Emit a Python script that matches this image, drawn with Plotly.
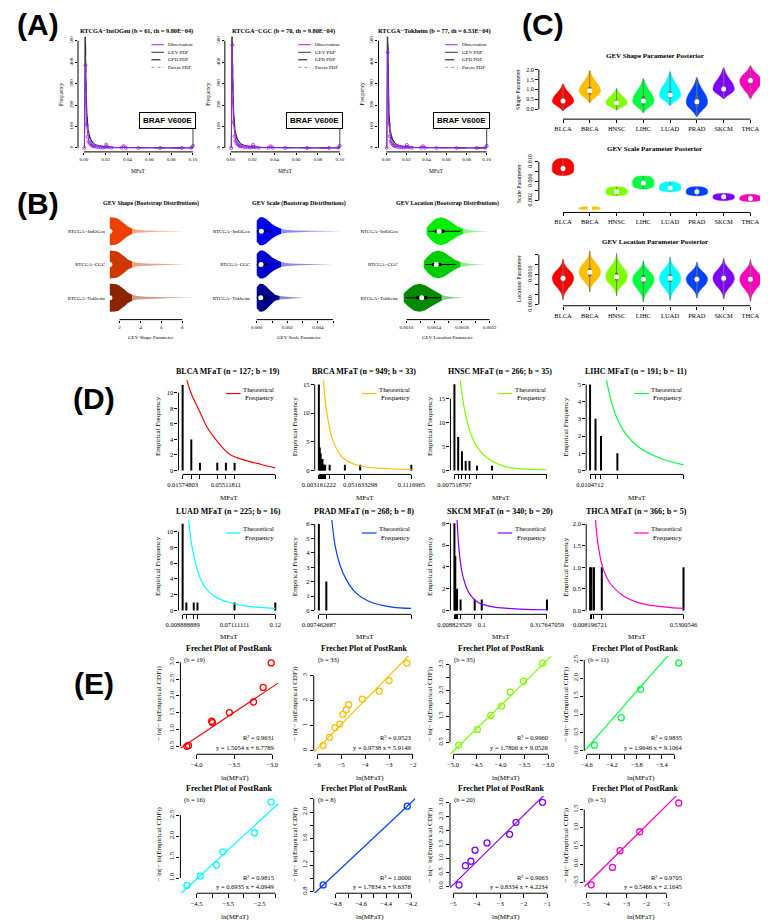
import plotly.graph_objects as go

W, H = 768, 920
SERIF = "Liberation Serif, Times New Roman, serif"
SANS = "Liberation Sans, Arial, Helvetica, sans-serif"
RAINBOW = ["#FF0000", "#FFBF00", "#80FF00", "#00FF40", "#00FFFF", "#0040FF", "#8000FF", "#FF00BF"]
CANCERS = ["BLCA", "BRCA", "HNSC", "LIHC", "LUAD", "PRAD", "SKCM", "THCA"]

# ================= Panel A data =================
A_titles = ["RTCGA−IntOGen (b = 61, th = 9.80E−04)",
            "RTCGA−CGC (b = 70, th = 9.80E−04)",
            "RTCGA−Tokheim (b = 77, th = 6.53E−04)"]
A_obs_x = [0.0005, 0.0015, 0.0025, 0.0035, 0.0045, 0.0055, 0.0065, 0.0075, 0.0085, 0.0095,
           0.0115, 0.0135, 0.0155, 0.0175, 0.0195, 0.0205, 0.0225, 0.0255, 0.0345, 0.0365,
           0.0385, 0.0500, 0.0700, 0.0900, 0.0985, 0.1000]
A_obs_y = [
    [0, 385, 110, 52, 30, 22, 16, 12, 9, 7, 5, 3, 2, 2, 3, 16, 3, 1, 1, 9, 1, 0, 0, 0, 1, 10],
    [0, 480, 120, 55, 32, 22, 16, 12, 9, 7, 5, 3, 2, 2, 3, 14, 3, 1, 1, 8, 1, 0, 0, 0, 1, 10],
    [0, 445, 115, 55, 32, 22, 16, 12, 9, 7, 5, 3, 2, 2, 3, 14, 3, 1, 1, 8, 1, 0, 0, 0, 1, 10]]
A_gev_x = [0.0006, 0.0008, 0.0010, 0.0012, 0.0015, 0.0020, 0.0025, 0.0030, 0.0040, 0.0050, 0.0060,
           0.0080, 0.0100, 0.0130, 0.0160, 0.0200, 0.0300, 0.0400, 0.0600, 0.0800, 0.1000]
A_gev_y = [0, 80, 450, 580, 480, 300, 200, 140, 85, 58, 44, 27, 18, 11, 7, 4.5, 2.2, 1.3, 0.6, 0.35, 0.2]
A_gpd_x = [0.00098, 0.0012, 0.0015, 0.0020, 0.0025, 0.0030, 0.0040, 0.0050, 0.0060, 0.0080,
           0.0100, 0.0130, 0.0160, 0.0200, 0.0300, 0.0400, 0.0600, 0.0800, 0.1000]
A_gpd_y = [900, 650, 440, 270, 180, 128, 78, 54, 40, 25, 17, 10.5, 7, 4.4, 2.1, 1.2, 0.55, 0.3, 0.18]
A_par_y = [1000, 720, 470, 285, 188, 132, 80, 55, 41, 25, 17, 10.5, 7, 4.4, 2.1, 1.2, 0.55, 0.3, 0.18]
A_mark_x = 0.10
A_mark_label = "BRAF V600E"
A_xticks = [0.00, 0.02, 0.04, 0.06, 0.08, 0.10]
A_yticks = [0, 100, 200, 300, 400, 500]
A_legend = ["Observation", "GEV PDF", "GPD PDF", "Pareto PDF"]

# ================= Panel B data =================
B_groups = ["RTCGA−IntOGen", "RTCGA−CGC", "RTCGA−Tokheim"]
B_titles = ["GEV Shape (Bootstrap Distributions)", "GEV Scale (Bootstrap Distributions)",
            "GEV Location (Bootstrap Distributions)"]
B_xtitles = ["GEV Shape Parameter", "GEV Scale Parameter", "GEV Location Parameter"]
B_colors = [["#EE4000", "#CD3700", "#8B2500"],
            ["#0000EE", "#0000CD", "#00008B"],
            ["#00EE00", "#00CD00", "#008B00"]]
B_shape_vals = [[1.07, 1.3, 1.6, 1.9, 2.2, 2.5, 2.8, 3.2, 3.7, 4.5, 5.5, 7.0, 8.3],
                [1.07, 1.3, 1.6, 1.9, 2.2, 2.5, 2.8, 3.2, 3.7, 4.5, 5.5, 7.0, 8.6],
                [1.07, 1.3, 1.6, 1.9, 2.2, 2.5, 2.8, 3.2, 3.7, 4.5, 5.5, 7.0, 9.2]]
B_shape_frac = [[1.0, 1.0, 0.97, 0.88, 0.72, 0.52, 0.34, 0.2, 0.11, 0.06, 0.04, 0.02, 0.0],
                [1.0, 1.0, 0.97, 0.9, 0.75, 0.55, 0.36, 0.22, 0.12, 0.07, 0.045, 0.02, 0.0],
                [1.0, 1.0, 0.98, 0.92, 0.78, 0.58, 0.38, 0.22, 0.12, 0.07, 0.045, 0.02, 0.0]]
B_shape_med = [1.08, 1.08, 1.08]
B_scale_vals = [[0.0, 0.0002, 0.0004, 0.0006, 0.0008, 0.0010, 0.0013, 0.0016, 0.0020, 0.0026, 0.0035, 0.0045, 0.0056],
                [0.0, 0.0002, 0.0004, 0.0006, 0.0008, 0.0010, 0.0013, 0.0016, 0.0020, 0.0026, 0.0033, 0.0041, 0.0050],
                [0.0, 0.0002, 0.0004, 0.0006, 0.0008, 0.0010, 0.0012, 0.0015, 0.0019, 0.0024, 0.0031]]
B_scale_frac = [[0.75, 1.0, 1.0, 0.9, 0.72, 0.52, 0.32, 0.18, 0.1, 0.06, 0.035, 0.02, 0.0],
                [0.75, 1.0, 1.0, 0.9, 0.72, 0.52, 0.32, 0.18, 0.1, 0.06, 0.035, 0.02, 0.0],
                [0.75, 1.0, 0.98, 0.85, 0.62, 0.4, 0.22, 0.12, 0.07, 0.03, 0.0]]
B_scale_med = [0.00030, 0.00028, 0.00026]
B_scale_whisk = [(0.0, 0.0009), (0.0, 0.0008), (0.0, 0.0007)]
B_scale_box = [(0.00012, 0.00052), (0.00011, 0.00050), (0.00010, 0.00045)]
B_loc_vals = [[0.00129, 0.00135, 0.00142, 0.00150, 0.00158, 0.00166, 0.00174, 0.00182, 0.00192, 0.00205, 0.00220],
              [0.00125, 0.00131, 0.00138, 0.00146, 0.00154, 0.00162, 0.00170, 0.00178, 0.00188, 0.00200, 0.00215],
              [0.00096, 0.00103, 0.00111, 0.00119, 0.00127, 0.00135, 0.00143, 0.00151, 0.00160, 0.00170, 0.00182]]
B_loc_frac = [[0.25, 0.6, 0.9, 1.0, 0.88, 0.6, 0.35, 0.18, 0.08, 0.03, 0.0],
              [0.25, 0.6, 0.9, 1.0, 0.88, 0.6, 0.35, 0.18, 0.08, 0.03, 0.0],
              [0.3, 0.65, 0.92, 1.0, 0.9, 0.65, 0.4, 0.2, 0.09, 0.03, 0.0]]
B_loc_med = [0.00147, 0.00143, 0.00122]
B_loc_whisk = [(0.00131, 0.00178), (0.00127, 0.00172), (0.00099, 0.00150)]
B_loc_box = [(0.00141, 0.00155), (0.00137, 0.00150), (0.00114, 0.00130)]

# ================= Panel C data =================
C_titles = ["GEV Shape Parameter Posterior", "GEV Scale Parameter Posterior", "GEV Location Parameter Posterior"]
C_ytitles = ["Shape Parameter", "Scale Parameter", "Location Parameter"]
C_rel = [0.0, 0.25, 0.5, 0.75, 1.0]
C_shape_lo = [-0.08, 0.32, -0.05, -0.18, 0.18, -0.38, 0.52, 0.52]
C_shape_med = [0.42, 0.93, 0.32, 0.42, 0.72, 0.38, 1.02, 1.45]
C_shape_hi = [1.28, 1.95, 1.05, 1.55, 1.90, 1.60, 2.10, 2.20]
C_shape_q1 = [0.27, 0.75, 0.18, 0.22, 0.55, 0.13, 0.87, 1.25]
C_shape_q3 = [0.58, 1.12, 0.47, 0.65, 0.90, 0.68, 1.18, 1.65]
C_shape_below = [0.0, 0.25, 0.6, 0.9, 1.0]
C_shape_above = [1.0, 0.85, 0.5, 0.2, 0.0]
C_scale_lo = [0.0072, 0.0001, 0.0030, 0.0044, 0.0038, 0.0030, 0.0020, 0.0018]
C_scale_med = [0.0086, 0.0004, 0.0038, 0.0056, 0.0046, 0.0038, 0.0028, 0.0024]
C_scale_hi = [0.0106, 0.0007, 0.0048, 0.0070, 0.0058, 0.0048, 0.0034, 0.0032]
C_scale_q1 = [0.0080, 0.0003, 0.0035, 0.0052, 0.0043, 0.0035, 0.0025, 0.0022]
C_scale_q3 = [0.0093, 0.0005, 0.0042, 0.0061, 0.0050, 0.0042, 0.0030, 0.0027]
C_scale_below = [0.3, 0.78, 0.96, 1.0, 1.0]
C_scale_above = [1.0, 1.0, 0.96, 0.82, 0.5]
C_loc_lo = [0.00110, 0.00125, 0.00117, 0.00105, 0.00108, 0.00113, 0.00111, 0.00106]
C_loc_med = [0.00153, 0.00165, 0.00156, 0.00151, 0.00153, 0.00151, 0.00153, 0.00151]
C_loc_hi = [0.00191, 0.00208, 0.00203, 0.00188, 0.00195, 0.00185, 0.00193, 0.00190]
C_loc_q1 = [0.00145, 0.00157, 0.00148, 0.00143, 0.00145, 0.00143, 0.00145, 0.00143]
C_loc_q3 = [0.00161, 0.00173, 0.00164, 0.00159, 0.00161, 0.00159, 0.00161, 0.00159]
C_loc_below = [0.0, 0.12, 0.45, 0.85, 1.0]
C_loc_above = [1.0, 0.85, 0.45, 0.12, 0.0]

# ================= Panel D data =================
D_n = [127, 949, 266, 191, 225, 268, 340, 366]
D_b = [19, 33, 35, 11, 16, 8, 20, 5]
D_k = [[2, 3, 4, 6, 7, 8],
       [3, 4, 5, 6, 7, 8, 9, 10, 15, 32, 49, 106],
       [2, 3, 4, 5, 6, 8, 12],
       [2, 3, 4, 7],
       [2, 3, 5, 6, 16, 27],
       [2, 4],
       [3, 4, 5, 6, 10, 26, 34, 108],
       [3, 6, 11, 27, 194]]
D_counts = [[11, 4, 1, 1, 1, 1],
            [15, 4, 3, 2, 2, 1, 1, 1, 1, 1, 1, 1],
            [18, 7, 4, 2, 2, 1, 1],
            [5, 3, 2, 1],
            [11, 1, 1, 1, 1, 1],
            [6, 2],
            [8, 5, 1, 2, 1, 1, 1, 1],
            [1, 1, 1, 1, 1]]
D_xlab = [{2: "0.01574803", 7: "0.05511811"},
          {3: "0.003161222", 49: "0.051633298", 106: "0.1116965"},
          {2: "0.007518797"},
          {2: "0.0104712"},
          {2: "0.008888889", 16: "0.07111111", 27: "0.12"},
          {2: "0.007462687"},
          {3: "0.008823529", 34: "0.1", 108: "0.317647059"},
          {3: "0.008196721", 194: "0.5300546"}]
D_yticks = [[0, 2, 4, 6, 8, 10], [0, 5, 10, 15], [0, 5, 10, 15], [0, 1, 2, 3, 4, 5],
            [0, 2, 4, 6, 8, 10], [0, 1, 2, 3, 4, 5, 6], [0, 2, 4, 6, 8], [0.0, 0.5, 1.0, 1.5, 2.0]]
D_curve_x = [[0.018, 0.0195, 0.0230, 0.0267, 0.0325, 0.0382, 0.0469, 0.0584, 0.0729, 0.0873, 0.1],
             [0.0075, 0.00866, 0.0110, 0.0141, 0.0197, 0.0307, 0.0491, 0.0864, 0.1117],
             [0.0125, 0.01346, 0.0150, 0.0172, 0.0219, 0.0282, 0.0392, 0.058, 0.0987, 0.1],
             [0.0255, 0.02644, 0.03, 0.036, 0.045, 0.0572, 0.0753, 0.098, 0.1],
             [0.0155, 0.0162, 0.0185, 0.02125, 0.0271, 0.0348, 0.0466, 0.0658, 0.0853, 0.12],
             [0.0195, 0.0204, 0.0236, 0.0285, 0.0349, 0.0445, 0.0573, 0.0806, 0.1],
             [0.0165, 0.01765, 0.021, 0.025, 0.0358, 0.0574, 0.0897, 0.1438, 0.23, 0.3176],
             [0.036, 0.0388, 0.045, 0.053, 0.080, 0.1254, 0.197, 0.305, 0.431, 0.53]]
D_curve_y = [[13.5, 11.7, 10.1, 8.9, 7.2, 5.5, 3.8, 2.1, 1.3, 0.77, 0.34],
             [19, 15.7, 11.6, 8.7, 5.2, 2.3, 0.87, 0.3, 0.2],
             [21, 18.75, 16.2, 13.2, 9.0, 5.6, 2.8, 0.8, 0.15, 0.13],
             [5.6, 5.2, 4.2, 3.08, 2.1, 1.35, 0.77, 0.35, 0.33],
             [12.5, 11.5, 9.2, 7.5, 4.96, 3.07, 1.8, 0.97, 0.55, 0.25],
             [7.0, 6.3, 4.55, 3.17, 2.14, 1.22, 0.64, 0.23, 0.14],
             [9.5, 8.3, 6.7, 5.4, 3.28, 1.61, 0.7, 0.3, 0.12, 0.06],
             [2.4, 2.09, 1.8, 1.52, 0.98, 0.6, 0.33, 0.15, 0.077, 0.046]]
D_legend = ["Theoretical", "Frequency"]

# ================= Panel E data =================
E_b = [19, 33, 35, 11, 16, 8, 20, 5]
E_x = [[-4.128, -4.107, -3.80, -3.79, -3.566, -3.247, -3.12, -3.013],
       [-5.76, -5.49, -5.26, -5.06, -4.93, -4.79, -4.69, -4.12, -3.41, -3.0, -2.25],
       [-4.884, -4.49, -4.207, -3.98, -3.80, -3.52, -3.12],
       [-4.48, -4.05, -3.74, -3.13],
       [-4.806, -4.378, -3.87, -3.665, -2.665, -2.136],
       [-4.902, -4.233],
       [-4.75, -4.48, -4.245, -4.07, -3.56, -2.6, -2.33, -1.2],
       [-4.75, -3.69, -3.32, -2.34, -0.4]]
E_y = [[0.493, 0.52, 1.24, 1.20, 1.50, 1.815, 2.25, 2.98],
       [0.2, 0.53, 0.92, 1.06, 1.45, 1.64, 1.84, 2.06, 2.38, 2.8, 3.5],
       [0.385, 1.0, 1.54, 1.9, 2.44, 2.86, 3.56],
       [0.15, 0.91, 1.69, 2.42],
       [0.824, 1.046, 1.31, 1.626, 2.08, 2.81],
       [0.9, 2.09],
       [0.046, 0.74, 0.9, 1.3, 1.56, 1.87, 2.3, 3.02],
       [-0.57, -0.09, 0.37, 0.89, 1.68]]
E_slope = [1.5054, 0.9738, 1.7806, 1.9646, 0.6935, 1.7834, 0.8334, 0.5466]
E_icpt = [6.7789, 5.9149, 9.0526, 9.1064, 4.0949, 9.6378, 4.2234, 2.1645]
E_r2 = ["0.9631", "0.9523", "0.9960", "0.9835", "0.9815", "1.0000", "0.9063", "0.9705"]
E_xt = [[-4.0, -3.5, -3.0], [-6, -5, -4, -3, -2], [-5.0, -4.5, -4.0, -3.5, -3.0],
        [-4.6, -4.4, -4.2, -4.0, -3.8, -3.6, -3.4, -3.2], [-4.5, -4.0, -3.5, -3.0, -2.5, -2.0],
        [-4.8, -4.7, -4.6, -4.5, -4.4, -4.3, -4.2], [-5, -4, -3, -2, -1], [-5, -4, -3, -2, -1]]
E_xl = [["−4.0", "−3.5", "−3.0"], ["−6", "−5", "−4", "−3", "−2"],
        ["−5.0", "−4.5", "−4.0", "−3.5", "−3.0"],
        ["−4.6", "", "−4.2", "", "−3.8", "", "−3.4", ""],
        ["−4.5", "", "−3.5", "", "−2.5", ""],
        ["−4.8", "", "−4.6", "", "−4.4", "", "−4.2"],
        ["−5", "−4", "−3", "−2", "−1"], ["−5", "−4", "−3", "−2", "−1"]]
E_yt = [[0.5, 1.0, 1.5, 2.0, 2.5, 3.0], [0, 1, 2, 3], [0.5, 1.0, 1.5, 2.0, 2.5, 3.0, 3.5],
        [0.0, 0.5, 1.0, 1.5, 2.0, 2.5], [1.0, 1.5, 2.0, 2.5], [0.8, 1.0, 1.2, 1.4, 1.6, 1.8, 2.0, 2.2],
        [0.0, 0.5, 1.0, 1.5, 2.0, 2.5, 3.0], [-0.5, 0.0, 0.5, 1.0, 1.5]]
E_yl = [["0.5", "1.0", "1.5", "2.0", "2.5", "3.0"], ["0", "1", "2", "3"],
        ["0.5", "", "1.5", "", "2.5", "", "3.5"], ["0.0", "0.5", "1.0", "1.5", "2.0", "2.5"],
        ["1.0", "1.5", "2.0", "2.5"], ["0.8", "", "1.2", "", "1.6", "", "2.0", ""],
        ["0.0", "0.5", "1.0", "1.5", "2.0", "2.5", "3.0"], ["−0.5", "0.0", "0.5", "1.0", "1.5"]]

# ================= layout machinery =================
layout_axes, shapes, annots, traces = {}, [], [], []
counter = [0]


def cal(c, q):
    t0, p0, t1, p1 = c
    return t0 + (q - p0) * (t1 - t0) / (p1 - p0)


def split_ticks(tv, tl):
    major_v = [v for v, l in zip(tv, tl) if l != ""]
    major_l = [l for l in tl if l != ""]
    minor_v = [v for v, l in zip(tv, tl) if l == ""]
    return major_v, major_l, minor_v


def axis_dict(dom, rng, anchor, tv, tl, font, angle, ticklen, ticks_on):
    mv, ml, mn = split_ticks(tv, tl)
    d = dict(domain=dom, range=rng, anchor=anchor, showgrid=False, zeroline=False, showline=False,
             ticks="outside" if ticks_on else "", ticklen=ticklen, tickwidth=1, tickcolor="black",
             tickmode="array", tickvals=mv, ticktext=ml, tickangle=angle, tickfont=font,
             fixedrange=True)
    if mn and ticks_on:
        d["minor"] = dict(tickmode="array", tickvals=mn, ticks="outside", ticklen=ticklen,
                          tickwidth=1, tickcolor="black", showgrid=False)
    return d


def axes(xdom, xcal, ydom, ycal, xt, xl, yt, yl, xfont, yfont, yangle=0,
         xline=None, yaxis_on=True, xticklen=3, yticklen=3):
    counter[0] += 1
    s = "" if counter[0] == 1 else str(counter[0])
    xa, ya = "x" + s, "y" + s
    xr = [cal(xcal, xdom[0]), cal(xcal, xdom[1])]
    yr = [cal(ycal, ydom[1]), cal(ycal, ydom[0])]
    layout_axes["xaxis" + s] = axis_dict([xdom[0] / W, xdom[1] / W], xr, ya, xt, xl, xfont, 0,
                                         xticklen, True)
    layout_axes["yaxis" + s] = axis_dict([1 - ydom[1] / H, 1 - ydom[0] / H], yr, xa, yt, yl, yfont,
                                         yangle, yticklen, yaxis_on)
    if xline is None:
        xline = (min(xt), max(xt))
    shapes.append(dict(type="line", xref=xa, yref=ya + " domain", x0=xline[0], x1=xline[1],
                       y0=0, y1=0, line=dict(color="black", width=1)))
    if yaxis_on:
        shapes.append(dict(type="line", xref=xa + " domain", yref=ya, x0=0, x1=0,
                           y0=min(yt), y1=max(yt), line=dict(color="black", width=1)))
    return xa, ya, xr, yr


def text(t, x, y, size, family=SERIF, bold=False, xanchor="center", yanchor="middle", angle=0):
    annots.append(dict(text=("<b>%s</b>" % t) if bold else t, x=x / W, y=1 - y / H,
                       xref="paper", yref="paper", xanchor=xanchor, yanchor=yanchor,
                       textangle=angle, showarrow=False, borderpad=0,
                       font=dict(family=family, size=size, color="black")))


def pline(x0, y0, x1, y1, color, width=1.0, dash="solid"):
    shapes.append(dict(type="line", xref="paper", yref="paper", x0=x0 / W, x1=x1 / W,
                       y0=1 - y0 / H, y1=1 - y1 / H, line=dict(color=color, width=width, dash=dash)))


def sc(xa, ya, **kw):
    traces.append(go.Scatter(xaxis=xa, yaxis=ya, showlegend=False, hoverinfo="skip", **kw))


def tf(size):
    return dict(family=SERIF, size=size, color="black")


# ================= Panel A =================
text("(A)", 18, 16, 30, SANS, True)
A_xdom = [(59, 182), (211, 334), (370, 486)]
A_xcal = [(0, 65, 0.1, 178), (0, 217, 0.1, 330), (0, 378, 0.1, 482)]
A_ycal = (500, 32, 0, 140)
for i in range(3):
    xa, ya, xr, yr = axes(A_xdom[i], A_xcal[i], (28, 144), A_ycal, A_xticks,
                          ["%.2f" % v for v in A_xticks], A_yticks, [str(v) for v in A_yticks],
                          tf(5), tf(5), yangle=-90, xticklen=2, yticklen=2)
    sc(xa, ya, x=A_gpd_x, y=A_par_y, mode="lines", line=dict(color="#999999", width=1, dash="dot"))
    sc(xa, ya, x=A_gpd_x, y=A_gpd_y, mode="lines", line=dict(color="black", width=1, dash="dash"))
    sc(xa, ya, x=A_gev_x, y=A_gev_y, mode="lines", line=dict(color="#333333", width=1))
    sc(xa, ya, x=A_obs_x, y=A_obs_y[i], mode="lines+markers", line=dict(color="#A020F0", width=1),
       marker=dict(symbol="circle-open", size=3, color="#A020F0", line=dict(width=0.8)))
    annots.append(dict(text="<b>%s</b>" % A_mark_label, xref=xa, x=A_mark_x, yref="paper",
                       y=1 - 112 / H, xanchor="right", xshift=3, yanchor="middle", showarrow=False,
                       bordercolor="black", borderwidth=1, borderpad=3, bgcolor="white",
                       font=dict(family=SANS, size=8, color="black")))
    shapes.append(dict(type="line", xref=xa, yref="paper", x0=A_mark_x, x1=A_mark_x,
                       y0=1 - 121 / H, y1=1 - 139 / H, line=dict(color="#444444", width=1)))
    cx = (A_xcal[i][1] + A_xcal[i][3]) / 2
    text(A_titles[i], cx - 2, 22, 6.3, bold=True)
    text("MFaT", cx, 163, 5.5)
    text("Frequency", A_xdom[i][0] - 17, 86, 5.5, angle=-90)
    right = A_xdom[i][1]
    styles = [("#A020F0", "solid"), ("#333333", "solid"), ("black", "dash"), ("#999999", "dot")]
    for r, (lab, (col, dsh)) in enumerate(zip(A_legend, styles)):
        yy = 36 + 7.6 * r
        pline(right - 47, yy, right - 34, yy, col, 1, dsh)
        text(lab, right - 31, yy, 5, xanchor="left")

# ================= Panel B =================
text("(B)", 18, 196, 30, SANS, True)
B_xdom = [(88, 186), (238, 336), (391, 492)]
B_xcal = [(2, 102, 8, 167), (0, 244, 0.005, 323), (0.0010, 399, 0.0022, 485)]
B_ycal = (3, 224, 1, 291)
B_xt = [[2, 4, 6, 8], [0, 0.001, 0.002, 0.003, 0.004, 0.005],
        [0.0010, 0.0012, 0.0014, 0.0016, 0.0018, 0.0020, 0.0022]]
B_xl = [["2", "4", "6", "8"], ["0.000", "", "0.002", "", "0.004", ""],
        ["0.0010", "", "0.0014", "", "0.0018", "", "0.0022"]]
B_centers = [135, 288, 441]
B_vals = [B_shape_vals, B_scale_vals, B_loc_vals]
B_fracs = [B_shape_frac, B_scale_frac, B_loc_frac]
B_meds = [B_shape_med, B_scale_med, B_loc_med]
HMAX = 0.42
for p in range(3):
    xa, ya, xr, yr = axes(B_xdom[p], B_xcal[p], (203, 313), B_ycal, B_xt[p], B_xl[p],
                          [3, 2, 1], B_groups, tf(5), tf(5), yaxis_on=False, xticklen=2)
    for j in range(3):
        c = 3 - j
        vals, fr = B_vals[p][j], B_fracs[p][j]
        cut = 7
        for seg, op in ((slice(0, cut + 1), 1.0), (slice(cut, None), 0.45)):
            v, f = vals[seg], fr[seg]
            px_ = v + v[::-1] + [v[0]]
            py_ = [c + HMAX * q for q in f] + [c - HMAX * q for q in f[::-1]] + [c + HMAX * f[0]]
            sc(xa, ya, x=px_, y=py_, mode="lines", fill="toself", fillcolor=B_colors[p][j],
               line=dict(width=0), opacity=op)
        if p == 1:
            sc(xa, ya, x=list(B_scale_whisk[j]), y=[c, c], mode="lines", line=dict(color="black", width=1))
            sc(xa, ya, x=list(B_scale_box[j]), y=[c, c], mode="lines", line=dict(color="black", width=3))
        if p == 2:
            sc(xa, ya, x=list(B_loc_whisk[j]), y=[c, c], mode="lines", line=dict(color="black", width=1))
            sc(xa, ya, x=list(B_loc_box[j]), y=[c, c], mode="lines", line=dict(color="black", width=3))
        sc(xa, ya, x=[B_meds[p][j]], y=[c], mode="markers", marker=dict(color="white", size=5))
    text(B_titles[p], B_centers[p], 196, 6, bold=True)
    text(B_xtitles[p], B_centers[p], 331, 5)

# ================= Panel C =================
text("(C)", 540, 16, 30, SANS, True)
C_xdom = (536, 768)
C_xcal = (0, 561, 7, 755)
C_specs = [
    dict(ydom=(55, 111), ycal=(2.0, 61, 0.0, 101), yt=[0.0, 0.5, 1.0, 1.5, 2.0],
         yl=["0.0", "0.5", "1.0", "1.5", "2.0"], ang=0,
         lo=C_shape_lo, med=C_shape_med, hi=C_shape_hi, q1=C_shape_q1, q3=C_shape_q3,
         below=C_shape_below, above=C_shape_above, ty=47, yty=82),
    dict(ydom=(147, 205), ycal=(0.010, 154, 0.002, 193), yt=[0.002, 0.004, 0.006, 0.008, 0.010],
         yl=["0.002", "", "0.006", "", "0.010"], ang=-90,
         lo=C_scale_lo, med=C_scale_med, hi=C_scale_hi, q1=C_scale_q1, q3=C_scale_q3,
         below=C_scale_below, above=C_scale_above, ty=141, yty=176),
    dict(ydom=(241, 299), ycal=(0.0020, 247.7, 0.0010, 297.7),
         yt=[0.0010, 0.0012, 0.0014, 0.0016, 0.0018, 0.0020],
         yl=["0.0010", "", "", "0.0016", "", ""], ang=-90,
         lo=C_loc_lo, med=C_loc_med, hi=C_loc_hi, q1=C_loc_q1, q3=C_loc_q3,
         below=C_loc_below, above=C_loc_above, ty=235, yty=272),
]
WMAX = 0.4
for p, s in enumerate(C_specs):
    xa, ya, xr, yr = axes(C_xdom, C_xcal, s["ydom"], s["ycal"], list(range(8)), CANCERS,
                          s["yt"], s["yl"], tf(6.5), tf(6), yangle=s["ang"])
    for k in range(8):
        lo, md, hi = s["lo"][k], s["med"][k], s["hi"][k]
        vals = [lo + (md - lo) * r for r in C_rel] + [md + (hi - md) * r for r in C_rel[1:]]
        fr = s["below"] + s["above"][1:]
        rx = [k + WMAX * f for f in fr]
        ry = list(vals)
        lx = [k - WMAX * f for f, v in zip(fr[::-1], vals[::-1]) if f > 0]
        ly = [v for f, v in zip(fr[::-1], vals[::-1]) if f > 0]
        sc(xa, ya, x=rx + lx + [rx[0]], y=ry + ly + [ry[0]], mode="lines", fill="toself",
           fillcolor=RAINBOW[k], line=dict(width=0.5, color=RAINBOW[k], shape="spline", smoothing=0.8))
        sc(xa, ya, x=[k, k], y=[lo, hi], mode="lines", line=dict(color="#777777", width=1))
        sc(xa, ya, x=[k, k], y=[s["q1"][k], s["q3"][k]], mode="lines", line=dict(color="#666666", width=3))
        sc(xa, ya, x=[k], y=[md], mode="markers", marker=dict(color="white", size=5))
    text(C_titles[p], 656, s["ty"], 7, bold=True)
    text(C_ytitles[p], 515, s["yty"], 6, angle=-90)

# ================= Panel D =================
text("(D)", 76, 392, 30, SANS, True)
D_coldom = [(163, 266), (304, 407), (444.5, 548), (585, 689)]
D_coldata = [(167.3, 263.2), (308.3, 404), (448.6, 544.4), (589, 685.7)]
D_rowdom = [(374, 469), (515, 610)]
D_zero = [465, 606]
D_ytop_px = [386.7, 378.3, 392.7, 378.3, 526.7, 519, 518.3, 519]
D_ytitle_x = [142, 283, 423.5, 564]
for i in range(8):
    row, col = i // 4, i % 4
    n = D_n[i]
    vals = [k / n for k in D_k[i]]
    xmax = max(0.1, max(vals))
    tv = list(vals)
    tl = [D_xlab[i].get(k, "") for k in D_k[i]]
    if xmax > max(vals) + 1e-12:
        tv.append(xmax)
        tl.append("")
    yt = D_yticks[i]
    yl = ["%.1f" % v for v in yt] if i == 7 else [str(v) for v in yt]
    xcal = (vals[0], D_coldata[col][0], xmax, D_coldata[col][1])
    ycal = (max(yt), D_ytop_px[i], 0, D_zero[row])
    xa, ya, xr, yr = axes(D_coldom[col], xcal, D_rowdom[row], ycal, tv, tl, yt, yl,
                          tf(6.5), tf(6.5), xticklen=4, yticklen=3)
    bx, by = [], []
    for v, c in zip(vals, D_counts[i]):
        bx += [v, v, None]
        by += [0, c, None]
    sc(xa, ya, x=bx, y=by, mode="lines", line=dict(color="black", width=2))
    sc(xa, ya, x=D_curve_x[i], y=D_curve_y[i], mode="lines",
       line=dict(color=RAINBOW[i], width=1.2, shape="spline", smoothing=1.0))
    cx = (D_coldom[col][0] + D_coldom[col][1]) / 2
    ty = 365 if row == 0 else 506
    text("%s MFaT (n = %d; b = %d)" % (CANCERS[i], n, D_b[i]), cx, ty, 8, bold=True)
    text("MFaT", (D_coldata[col][0] + D_coldata[col][1]) / 2, 493 if row == 0 else 633, 7)
    text("Empirical Frequency", D_ytitle_x[col], 421 if row == 0 else 562, 7, angle=-90)
    right = D_coldata[col][1]
    ly = 387.5 if row == 0 else 528
    pline(right - 51, ly, right - 36, ly, RAINBOW[i], 1.2)
    text(D_legend[0], right, ly - 4.3, 6.8, xanchor="right")
    text(D_legend[1], right, ly + 4.3, 6.8, xanchor="right")

# ================= Panel E =================
text("(E)", 76, 680, 30, SANS, True)
E_coldom = [(165, 266), (303, 408), (444, 549), (583, 688)]
E_rowdom = [(652, 751), (793, 891)]
E_xcal = [(-4.0, 181.7, -3.0, 260), (-6, 306.7, -2, 405.7), (-5, 447.3, -3, 545.7),
          (-4.6, 585.7, -3.4, 663.3), (-4.5, 181.7, -2.0, 263.3), (-4.8, 326, -4.2, 404),
          (-5, 447.3, -1, 544.7), (-5, 585, -1, 668.3)]
E_ycal = [(3.0, 658.3, 0.5, 742.7), (3, 671.7, 0, 747.3), (3.5, 660.7, 0.5, 739),
          (2.5, 656, 0, 747.3), (2.5, 812.3, 1.0, 875.7), (2.0, 809.3, 0.8, 889.3),
          (3.0, 800, 0.0, 884), (1.5, 806.7, -0.5, 880)]
E_ytitle_x = [142, 283, 423, 564]
for i in range(8):
    row, col = i // 4, i % 4
    xa, ya, xr, yr = axes(E_coldom[col], E_xcal[i], E_rowdom[row], E_ycal[i], E_xt[i], E_xl[i],
                          E_yt[i], E_yl[i], tf(6.5), tf(6.5), yangle=-90, xticklen=4, yticklen=3)
    lx = [xr[0], xr[1]]
    sc(xa, ya, x=lx, y=[E_slope[i] * v + E_icpt[i] for v in lx], mode="lines",
       line=dict(color=RAINBOW[i], width=1.2))
    sc(xa, ya, x=E_x[i], y=E_y[i], mode="markers",
       marker=dict(symbol="circle-open", size=6, color=RAINBOW[i], line=dict(width=1.3)))
    d0, d1 = E_coldom[col]
    top = E_rowdom[row][0]
    cx = (d0 + d1) / 2
    text("Frechet Plot of PostRank", cx, 644 if row == 0 else 785, 8, bold=True)
    text("ln(MFaT)", cx + 6, 775 if row == 0 else 915, 7)
    text("− ln(− ln(Empirical CDF))", E_ytitle_x[col], 700 if row == 0 else 842, 7, angle=-90)
    text("(b = %d)" % E_b[i], d0 + 3, top + 4, 6.5, xanchor="left")
    text("R² = %s" % E_r2[i], d1 - 3, 734 if row == 0 else 875, 6.5, xanchor="right")
    text("y = %.4f x + %.4f" % (E_slope[i], E_icpt[i]), d1 - 3, 744 if row == 0 else 884, 6.5,
         xanchor="right")

fig = go.Figure(data=traces)
fig.update_layout(width=W, height=H, margin=dict(l=0, r=0, t=0, b=0), paper_bgcolor="white",
                  plot_bgcolor="white", showlegend=False, shapes=shapes, annotations=annots,
                  **layout_axes)
fig.write_html("out.html")
